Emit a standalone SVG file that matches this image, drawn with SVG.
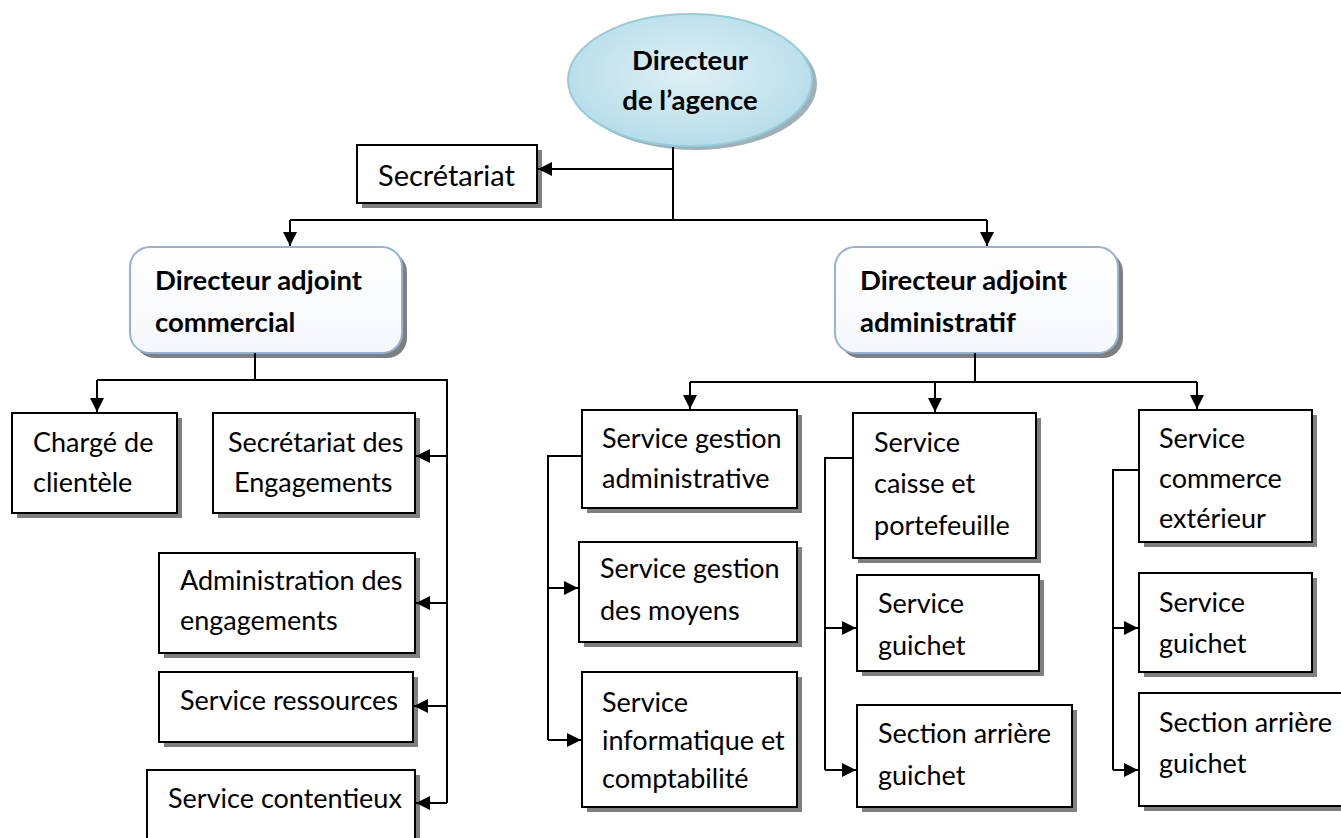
<svg xmlns="http://www.w3.org/2000/svg" width="1341" height="838" viewBox="0 0 1341 838">
<defs>
<style>
.box{fill:#fff;stroke:#000;stroke-width:2}
.sh{fill:#7f7f7f}
.rbox{fill:url(#rg);stroke:#95b3d7;stroke-width:2}
.t{font-family:Lato,"Liberation Sans",sans-serif;font-size:27px;fill:#000}
.b{font-family:Lato,"Liberation Sans",sans-serif;font-size:27.5px;font-weight:bold;fill:#000}
.c{fill:none;stroke:#000;stroke-width:2}
</style>
<linearGradient id="rg" x1="0" y1="0" x2="0" y2="1">
<stop offset="0" stop-color="#ffffff"/><stop offset="1" stop-color="#f4f7fb"/>
</linearGradient>
<radialGradient id="eg" cx="0.5" cy="0.45" r="0.6">
<stop offset="0" stop-color="#dff0f5"/><stop offset="1" stop-color="#b3dce8"/>
</radialGradient>
<marker id="ar" markerUnits="userSpaceOnUse" markerWidth="14" markerHeight="14" viewBox="0 0 14 14" refX="14" refY="7" orient="auto">
<path d="M0,0 L14,7 L0,14 Z" fill="#000"/>
</marker>
</defs>
<rect width="1341" height="838" fill="#fff"/>

<g id="directeur">
<ellipse cx="695" cy="84" rx="122" ry="66" fill="#8c9ba3" opacity="0.8"/>
<ellipse cx="690" cy="80" rx="122" ry="66" fill="url(#eg)" stroke="#93cddd" stroke-width="2"/>
<text class="b" x="690" y="70" text-anchor="middle">Directeur</text>
<text class="b" x="690" y="110" text-anchor="middle">de l’agence</text>
</g>

<g id="secretariat">
<rect class="sh" x="362" y="150" width="180" height="58"/>
<rect class="box" x="357" y="145" width="180" height="58"/>
<text class="t" x="378" y="186" style="font-size:29px">Secrétariat</text>
</g>

<g id="dir-commercial">
<rect class="sh" x="135" y="252" width="272" height="106" rx="20"/>
<rect class="rbox" x="130" y="247" width="272" height="106" rx="20"/>
<text class="b" x="155" y="290">Directeur adjoint</text>
<text class="b" x="155" y="332">commercial</text>
</g>

<g id="dir-administratif">
<rect class="sh" x="840" y="252" width="283" height="106" rx="20"/>
<rect class="rbox" x="835" y="247" width="283" height="106" rx="20"/>
<text class="b" x="860" y="290">Directeur adjoint</text>
<text class="b" x="860" y="332">administratif</text>
</g>

<g id="charge-clientele">
<rect class="sh" x="17" y="418" width="165" height="100"/>
<rect class="box" x="12" y="413" width="165" height="100"/>
<text class="t" x="33" y="452">Chargé de</text>
<text class="t" x="33" y="492">clientèle</text>
</g>

<g id="secretariat-engagements">
<rect class="sh" x="218" y="418" width="202" height="100"/>
<rect class="box" x="213" y="413" width="202" height="100"/>
<text class="t" x="228" y="452">Secrétariat des</text>
<text class="t" x="234" y="492">Engagements</text>
</g>

<g id="administration-engagements">
<rect class="sh" x="164" y="558" width="256" height="100"/>
<rect class="box" x="159" y="553" width="256" height="100"/>
<text class="t" x="180" y="590">Administration des</text>
<text class="t" x="180" y="630">engagements</text>
</g>

<g id="service-ressources">
<rect class="sh" x="164" y="677" width="254" height="70"/>
<rect class="box" x="159" y="672" width="254" height="70"/>
<text class="t" x="180" y="710">Service ressources</text>
</g>

<g id="service-contentieux">
<rect class="sh" x="152" y="775" width="268" height="80"/>
<rect class="box" x="147" y="770" width="268" height="80"/>
<text class="t" x="168" y="808">Service contentieux</text>
</g>

<g id="gestion-administrative">
<rect class="sh" x="587" y="415" width="215" height="98"/>
<rect class="box" x="582" y="410" width="215" height="98"/>
<text class="t" x="602" y="448">Service gestion</text>
<text class="t" x="602" y="488">administrative</text>
</g>

<g id="gestion-moyens">
<rect class="sh" x="584" y="547" width="218" height="100"/>
<rect class="box" x="579" y="542" width="218" height="100"/>
<text class="t" x="600" y="578">Service gestion</text>
<text class="t" x="600" y="620">des moyens</text>
</g>

<g id="informatique-comptabilite">
<rect class="sh" x="587" y="677" width="215" height="135"/>
<rect class="box" x="582" y="672" width="215" height="135"/>
<text class="t" x="602" y="712">Service</text>
<text class="t" x="602" y="750">informatique et</text>
<text class="t" x="602" y="788">comptabilité</text>
</g>

<g id="caisse-portefeuille">
<rect class="sh" x="858" y="418" width="183" height="145"/>
<rect class="box" x="853" y="413" width="183" height="145"/>
<text class="t" x="874" y="452">Service</text>
<text class="t" x="874" y="493">caisse et</text>
<text class="t" x="874" y="535">portefeuille</text>
</g>

<g id="guichet-1">
<rect class="sh" x="862" y="580" width="182" height="96"/>
<rect class="box" x="857" y="575" width="182" height="96"/>
<text class="t" x="878" y="613">Service</text>
<text class="t" x="878" y="655">guichet</text>
</g>

<g id="arriere-guichet-1">
<rect class="sh" x="862" y="710" width="215" height="102"/>
<rect class="box" x="857" y="705" width="215" height="102"/>
<text class="t" x="878" y="743">Section arrière</text>
<text class="t" x="878" y="785">guichet</text>
</g>

<g id="commerce-exterieur">
<rect class="sh" x="1144" y="415" width="173" height="132"/>
<rect class="box" x="1139" y="410" width="173" height="132"/>
<text class="t" x="1159" y="448">Service</text>
<text class="t" x="1159" y="488">commerce</text>
<text class="t" x="1159" y="528">extérieur</text>
</g>

<g id="guichet-2">
<rect class="sh" x="1144" y="578" width="173" height="99"/>
<rect class="box" x="1139" y="573" width="173" height="99"/>
<text class="t" x="1159" y="612">Service</text>
<text class="t" x="1159" y="653">guichet</text>
</g>

<g id="arriere-guichet-2">
<rect class="sh" x="1144" y="698" width="210" height="113"/>
<rect class="box" x="1139" y="693" width="210" height="113"/>
<text class="t" x="1159" y="732">Section arrière</text>
<text class="t" x="1159" y="773">guichet</text>
</g>

<g id="connectors">
<path class="c" d="M673,147 V220"/>
<path class="c" d="M673,169 H538" marker-end="url(#ar)"/>
<path class="c" d="M290,220 H987"/>
<path class="c" d="M290,220 V246" marker-end="url(#ar)"/>
<path class="c" d="M987,220 V246" marker-end="url(#ar)"/>

<path class="c" d="M255,353 V380"/>
<path class="c" d="M97,380 H447 V803"/>
<path class="c" d="M97,380 V412" marker-end="url(#ar)"/>
<path class="c" d="M447,456 H416" marker-end="url(#ar)"/>
<path class="c" d="M447,603 H416" marker-end="url(#ar)"/>
<path class="c" d="M447,706 H414" marker-end="url(#ar)"/>
<path class="c" d="M447,803 H416" marker-end="url(#ar)"/>

<path class="c" d="M975,353 V382"/>
<path class="c" d="M690,382 H1197"/>
<path class="c" d="M690,382 V409" marker-end="url(#ar)"/>
<path class="c" d="M935,382 V412" marker-end="url(#ar)"/>
<path class="c" d="M1197,382 V409" marker-end="url(#ar)"/>

<path class="c" d="M582,456 H548 V740"/>
<path class="c" d="M548,588 H578" marker-end="url(#ar)"/>
<path class="c" d="M548,740 H581" marker-end="url(#ar)"/>

<path class="c" d="M853,458 H825 V770"/>
<path class="c" d="M825,628 H856" marker-end="url(#ar)"/>
<path class="c" d="M825,770 H856" marker-end="url(#ar)"/>

<path class="c" d="M1139,470 H1113 V770"/>
<path class="c" d="M1113,628 H1138" marker-end="url(#ar)"/>
<path class="c" d="M1113,770 H1138" marker-end="url(#ar)"/>
</g>
</svg>
